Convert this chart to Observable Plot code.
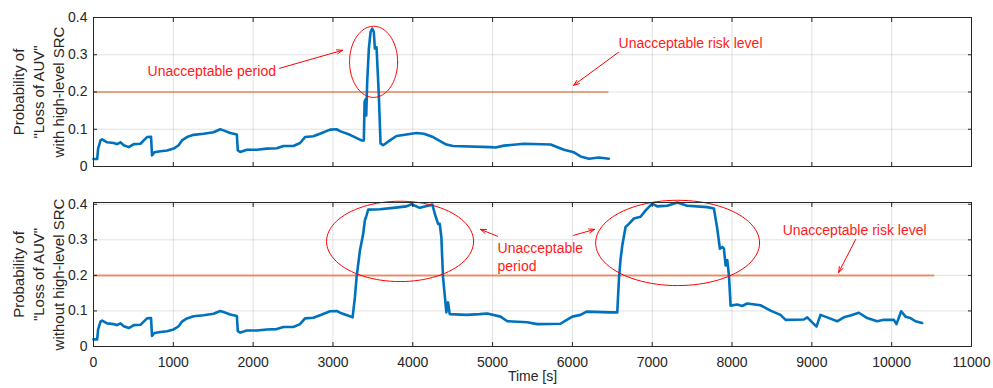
<!DOCTYPE html>
<html><head><meta charset="utf-8">
<script src="https://cdn.jsdelivr.net/npm/d3@7"></script>
<script src="https://cdn.jsdelivr.net/npm/@observablehq/plot@0.6"></script>
<style>body{margin:0;background:#fff} svg{display:block}</style>
</head><body><div id="chart"></div>
<script>
// ---------- data ----------
const topTime = [0,46,58,88,108,171,254,296,338,379,442,504,588,629,671,721,733,763,838,921,1004,1067,1108,1171,1254,1379,1504,1588,1629,1713,1796,1808,1838,1921,2046,2171,2296,2379,2504,2588,2650,2754,2838,2963,3046,3088,3213,3358,3387,3396,3408,3417,3429,3450,3471,3492,3512,3525,3546,3563,3575,3596,3629,3713,3796,3921,4046,4139,4254,4421,4504,4975,5037,5142,5392,5727,5894,6019,6102,6207,6332,6457];
const topProb = [0.02,0.02,0.048,0.07,0.073,0.065,0.063,0.06,0.065,0.057,0.052,0.06,0.061,0.07,0.079,0.08,0.03,0.038,0.041,0.043,0.048,0.057,0.07,0.079,0.085,0.088,0.092,0.1,0.097,0.09,0.086,0.043,0.039,0.045,0.045,0.048,0.049,0.055,0.055,0.063,0.079,0.081,0.088,0.099,0.1,0.095,0.085,0.07,0.07,0.173,0.18,0.137,0.227,0.317,0.361,0.37,0.361,0.317,0.32,0.245,0.19,0.062,0.057,0.07,0.082,0.086,0.09,0.088,0.079,0.059,0.055,0.052,0.051,0.056,0.061,0.059,0.045,0.038,0.027,0.021,0.024,0.021];

const bottomTime = [0,46,58,88,108,171,254,296,338,379,442,504,588,629,671,721,733,763,838,921,1004,1067,1108,1171,1254,1379,1504,1588,1629,1713,1796,1808,1838,1921,2046,2171,2296,2379,2504,2588,2650,2754,2838,2963,3046,3088,3213,3246,3275,3296,3338,3379,3400,3421,3442,3588,3754,3921,3983,4088,4150,4246,4275,4317,4338,4358,4379,4421,4442,4463,4671,4838,4933,5100,5184,5434,5559,5851,5914,5998,6102,6177,6478,6562,6583,6604,6625,6666,6708,6770,6854,6917,7000,7063,7188,7314,7439,7690,7773,7815,7848,7877,7898,7919,7940,7961,7982,8065,8127,8190,8357,8482,8607,8671,8900,8942,9004,9058,9108,9192,9317,9400,9484,9588,9693,9818,9902,10027,10060,10119,10173,10236,10298,10382];
const bottomProb = [0.02,0.02,0.048,0.07,0.073,0.065,0.063,0.06,0.065,0.057,0.052,0.06,0.061,0.07,0.079,0.08,0.03,0.038,0.041,0.043,0.048,0.057,0.07,0.079,0.085,0.088,0.092,0.1,0.097,0.09,0.086,0.043,0.039,0.045,0.045,0.048,0.049,0.055,0.055,0.063,0.079,0.081,0.088,0.099,0.1,0.095,0.085,0.082,0.138,0.195,0.27,0.317,0.355,0.369,0.385,0.386,0.39,0.394,0.4,0.39,0.394,0.399,0.374,0.345,0.345,0.308,0.195,0.096,0.124,0.091,0.089,0.091,0.093,0.084,0.071,0.068,0.063,0.064,0.073,0.084,0.089,0.098,0.096,0.096,0.19,0.247,0.284,0.336,0.345,0.36,0.365,0.383,0.402,0.394,0.396,0.405,0.396,0.392,0.388,0.331,0.275,0.28,0.275,0.228,0.243,0.2,0.115,0.118,0.114,0.121,0.116,0.101,0.089,0.075,0.076,0.082,0.068,0.056,0.089,0.082,0.071,0.082,0.087,0.095,0.08,0.071,0.075,0.075,0.063,0.099,0.084,0.08,0.071,0.066];

const xTicks = [0,1000,2000,3000,4000,5000,6000,7000,8000,9000,10000,11000];
const yTicks = [0,0.1,0.2,0.3,0.4];
const riskLevel = 0.2;
const topRiskEnd = 6457;
const bottomRiskEnd = 10540;
const topLabel = "Probability of\n\"Loss of AUV\"\nwith high-level SRC";
const bottomLabel = "Probability of\n\"Loss of AUV\"\nwithout high-level SRC";
const xLabel = "Time [s]";

// annotations (data coordinates)
const topEllipses = [{cx: 3509, cy: 0.281, rx: 301, ry: 0.0955}];
const topArrows = [
  {x1: 2331, y1: 0.2636, x2: 3120, y2: 0.312},
  {x1: 6578, y1: 0.3067, x2: 6015, y2: 0.218}
];
const topTexts = [
  {x: 677, y: 0.2556, text: "Unacceptable period"},
  {x: 6578, y: 0.331, text: "Unacceptable risk level"}
];
const bottomEllipses = [
  {cx: 3841, cy: 0.2956, rx: 921, ry: 0.113},
  {cx: 7318, cy: 0.2913, rx: 1027, ry: 0.12}
];
const bottomArrows = [
  {x1: 5062, y1: 0.31, x2: 4849, y2: 0.3294},
  {x1: 6015, y1: 0.3125, x2: 6278, y2: 0.3294},
  {x1: 9548, y1: 0.301, x2: 9335, y2: 0.208}
];
const bottomTexts = [
  {x: 5062, y: 0.2758, text: "Unacceptable"},
  {x: 5062, y: 0.225, text: "period"},
  {x: 8634, y: 0.3266, text: "Unacceptable risk level"}
];

// ---------- drawing ----------
const FONT = "'Liberation Sans', Arial, Helvetica, sans-serif";
const INK = "#262626";

function ellipsePoints(list) {
  const pts = [];
  list.forEach((e, id) => {
    for (let k = 0; k <= 96; k++) {
      const a = (k / 96) * 2 * Math.PI;
      pts.push({id, x: e.cx + e.rx * Math.cos(a), y: e.cy + e.ry * Math.sin(a)});
    }
  });
  return pts;
}

function panel({time, prob, riskEnd, height, marginTop, marginBottom, yMax, showX, label, ellipses, arrows, texts, riskStyle}) {
  const series = time.map((t, i) => ({t, p: prob[i]}));
  const marks = [
    Plot.gridX(xTicks, {stroke: "#000", strokeOpacity: 0.12}),
    Plot.gridY(yTicks, {stroke: "#000", strokeOpacity: 0.12}),
    Plot.ruleY([{y: riskLevel, x1: 0, x2: riskEnd}], {y: "y", x1: "x1", x2: "x2", ...riskStyle}),
    Plot.line(series, {x: "t", y: "p", stroke: "#0072BD", strokeWidth: 2.6}),
    Plot.line(ellipsePoints(ellipses), {x: "x", y: "y", z: "id", stroke: "#ff0000", strokeWidth: 1, curve: "linear"}),
    Plot.arrow(arrows, {x1: "x1", y1: "y1", x2: "x2", y2: "y2", stroke: "#ff0000", strokeWidth: 1, headLength: 9, headAngle: 40}),
    Plot.text(texts, {x: "x", y: "y", text: "text", textAnchor: "start", fill: "#ff1a1a", fontSize: 14}),
    Plot.frame({stroke: INK, strokeWidth: 1}),
    Plot.axisX(xTicks, {anchor: "bottom", tickSize: -4, tickFormat: () => "", label: null, stroke: INK}),
    Plot.axisX(xTicks, {anchor: "top", tickSize: -4, tickFormat: () => "", label: null, stroke: INK}),
    Plot.axisY(yTicks, {anchor: "left", tickSize: -4, tickFormat: () => "", label: null, stroke: INK}),
    Plot.axisY(yTicks, {anchor: "right", tickSize: -4, tickFormat: () => "", label: null, stroke: INK}),
    Plot.axisY(yTicks, {anchor: "left", tickSize: 0, tickPadding: 6, label: null, fill: INK, fontSize: 14, tickFormat: d => String(d)}),
    Plot.text([label], {frameAnchor: "left", rotate: -90, dx: -56, text: d => d, lineHeight: 20 / 15, fontSize: 15, fill: INK, lineAnchor: "middle", textAnchor: "middle"})
  ];
  if (showX) {
    marks.push(
      Plot.axisX(xTicks, {anchor: "bottom", tickSize: 0, tickPadding: 11, label: null, fill: INK, fontSize: 14, tickFormat: d => String(d)}),
      Plot.text([xLabel], {frameAnchor: "bottom", dy: 34, text: d => d, fontSize: 14, fill: INK, textAnchor: "middle"})
    );
  }
  return Plot.plot({
    width: 993,
    height,
    marginTop,
    marginBottom,
    marginLeft: 93,
    marginRight: 22,
    x: {type: "linear", domain: [0, 11000]},
    y: {type: "linear", domain: [0, yMax]},
    style: {fontFamily: FONT, fontSize: "14px", color: INK, background: "white", overflow: "visible"},
    marks
  });
}

const chart = document.getElementById("chart");
chart.append(panel({
  time: topTime, prob: topProb, riskEnd: topRiskEnd,
  height: 180, marginTop: 17, marginBottom: 14, yMax: 0.4, showX: false,
  label: topLabel, ellipses: topEllipses, arrows: topArrows, texts: topTexts,
  riskStyle: {stroke: "#E2531A", strokeWidth: 1.2}
}));
chart.append(panel({
  time: bottomTime, prob: bottomProb, riskEnd: bottomRiskEnd,
  height: 208, marginTop: 22, marginBottom: 42, yMax: 0.405, showX: true,
  label: bottomLabel, ellipses: bottomEllipses, arrows: bottomArrows, texts: bottomTexts,
  riskStyle: {stroke: "#E2531A", strokeWidth: 2, strokeOpacity: 0.6}
}));
</script>
</body></html>
